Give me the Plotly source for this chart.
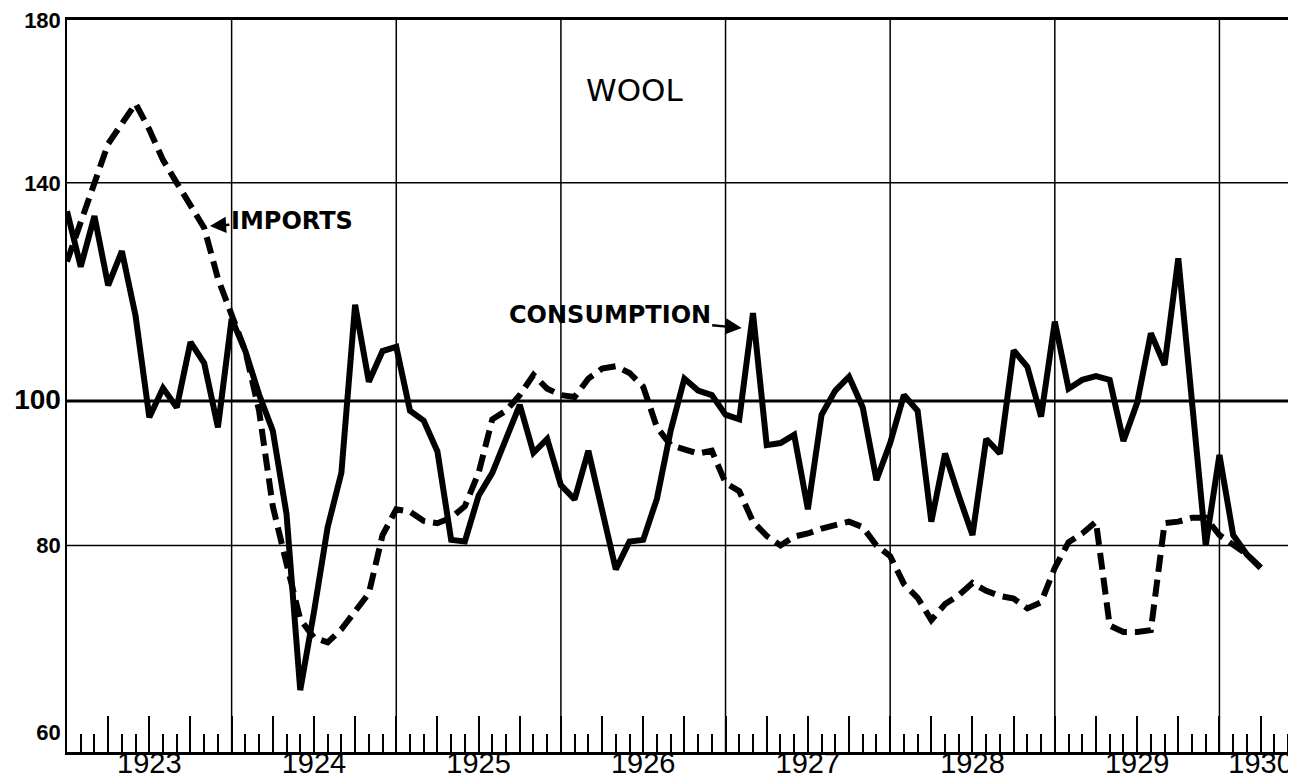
import numpy as np
import plotly.graph_objects as go

# ---------------- data (monthly index numbers, Jan 1923 onward) ----------------
START_YEAR = 1923
consumption = [
    134, 123, 133, 119.5, 126, 114, 97.5, 102, 99, 109.5, 106, 96,          # 1923
    113.5, 108, 101, 95.5, 84, 64, 72.2, 82.3, 89.5, 116, 103, 108,         # 1924
    108.7, 98.5, 97, 92.5, 80.7, 80.5, 86.4, 89.5, 94.3, 99.4, 92.3, 94.3,  # 1925
    87.8, 85.9, 92.6, 84.8, 77.1, 80.5, 80.7, 86, 95.5, 103.5, 101.6, 100.9,  # 1926
    97.9, 97.2, 114.5, 93.4, 93.7, 94.9, 84.6, 97.9, 101.6, 103.8, 99, 88.5,  # 1927
    93.7, 100.9, 98.5, 83, 92.2, 86.4, 81.3, 94.3, 92.2, 108.1, 105.4, 97.6,  # 1928
    113, 101.9, 103.3, 103.9, 103.3, 94, 99.7, 111, 105.7, 124.6, 99, 80,   # 1929
    92, 81.3, 78.9, 77.3,                                                    # 1930
]
imports = [
    124, 131.5, 140, 148.7, 153.4, 158.2, 152, 145, 140, 135.5, 130.6, 120.8,
    114.3, 108, 98.5, 85, 77.8, 71.4, 69.4, 68.9, 70.3, 72.2, 74.3, 81.3,
    84.6, 84.3, 83.1, 82.8, 83.5, 85, 89.5, 97.2, 98.5, 100.9, 104.1, 101.9,
    100.9, 100.6, 103.5, 105.1, 105.5, 104.4, 102.2, 96, 93.4, 92.8, 92.2, 92.6,
    88.1, 87, 83, 81.2, 80, 81.1, 81.5, 82.1, 82.6, 83, 82.3, 80,
    78.7, 75.4, 73.8, 71.3, 73.1, 74.1, 75.5, 74.6, 74, 73.7, 72.6, 73.3,
    77.3, 80.4, 81.5, 83, 70.7, 70, 70, 70.2, 82.8, 83, 83.5, 83.5,
    81.3, 80.2, 78.9, 77.3,
]
months = [START_YEAR + i / 12 for i in range(len(consumption))]

YEAR_LABELS = ["1923", "1924", "1925", "1926", "1927", "1928", "1929", "1930"]
YEAR_LABEL_POS = [1923.5, 1924.5, 1925.5, 1926.5, 1927.5, 1928.5, 1929.5, 1930.25]
YEAR_LINES = [1924, 1925, 1926, 1927, 1928, 1929, 1930]
Y_TICKS = [60, 80, 100, 140, 180]
Y_TICK_TEXT = ["60", "80", "<span style='font-size:28px'>100</span>", "140", "180"]
Y_GRID = [80, 140]
Y_HEAVY = 100

X_RANGE = [1923.0, 1930.465]
Y_RANGE = [58.17, 180.0]

# quarterly ticks carrying the year labels
quarters = [round(START_YEAR + q / 4, 4) for q in range(0, 30)]
qtext = []
for q in quarters:
    lab = ""
    for p, t in zip(YEAR_LABEL_POS, YEAR_LABELS):
        if abs(p - q) < 1e-6:
            lab = t
    qtext.append(lab)

fig = go.Figure()
fig.add_trace(go.Scatter(
    x=months, y=imports, mode="lines", name="Imports",
    line=dict(color="black", width=6, dash="17px,8px"), hoverinfo="skip"))
fig.add_trace(go.Scatter(
    x=months, y=consumption, mode="lines", name="Consumption",
    line=dict(color="black", width=6), hoverinfo="skip"))

for yr in YEAR_LINES:
    fig.add_vline(x=yr, line=dict(color="black", width=1.5), layer="below")
for v in Y_GRID:
    fig.add_hline(y=v, line=dict(color="black", width=1.5), layer="below")
fig.add_hline(y=Y_HEAVY, line=dict(color="black", width=3), layer="below")


def ylog(v):
    return float(np.log10(v))


fig.add_annotation(x=0.462, y=0.904, xref="paper", yref="paper", text="WOOL",
                   showarrow=False, xanchor="center", yanchor="middle",
                   font=dict(family="DejaVu Sans", size=31, color="black"))
fig.add_annotation(x=1923.868, y=ylog(131.0), xref="x", yref="y", text="IMPORTS",
                   showarrow=True, ax=82, ay=-5, arrowhead=2, arrowsize=1.3,
                   arrowwidth=2.5, arrowcolor="black", standoff=0,
                   font=dict(family="DejaVu Sans", size=24, color="black", weight="bold"))
fig.add_annotation(x=1927.098, y=ylog(111.9), xref="x", yref="y", text="CONSUMPTION",
                   showarrow=True, ax=-132, ay=-13, arrowhead=2, arrowsize=1.3,
                   arrowwidth=2.5, arrowcolor="black", standoff=0,
                   font=dict(family="DejaVu Sans", size=24, color="black", weight="bold"))

# the page body adds an 8px offset; margins compensate so the plot frame
# sits at x 67..1296, y 20..752 of the window
fig.update_layout(
    width=1296, height=776,
    margin=dict(l=59, r=8, t=12, b=32, pad=0),
    paper_bgcolor="white", plot_bgcolor="white",
    showlegend=False,
    xaxis=dict(
        range=X_RANGE, showgrid=False, zeroline=False, automargin=False,
        showline=True, linecolor="black", linewidth=2.5, mirror=True,
        tickmode="array", tickvals=quarters, ticktext=qtext,
        ticks="inside", ticklen=36, tickwidth=2, tickcolor="black",
        ticklabelstandoff=-17, ticklabeloverflow="allow",
        tickfont=dict(family="Liberation Sans", size=29, color="black"),
        minor=dict(tick0=START_YEAR, dtick=1 / 12, ticks="inside", ticklen=18,
                   tickwidth=2, tickcolor="black", showgrid=False),
    ),
    yaxis=dict(
        type="log", range=[np.log10(Y_RANGE[0]), np.log10(Y_RANGE[1])],
        showgrid=False, zeroline=False, automargin=False,
        showline=True, linecolor="black", linewidth=1.5, mirror=False,
        tickmode="array", tickvals=Y_TICKS, ticktext=Y_TICK_TEXT,
        ticks="", ticklabelstandoff=0, ticklabeloverflow="allow",
        tickfont=dict(family="Liberation Sans", size=22, color="black", weight="bold"),
    ),
)

fig.write_html("out.html")
